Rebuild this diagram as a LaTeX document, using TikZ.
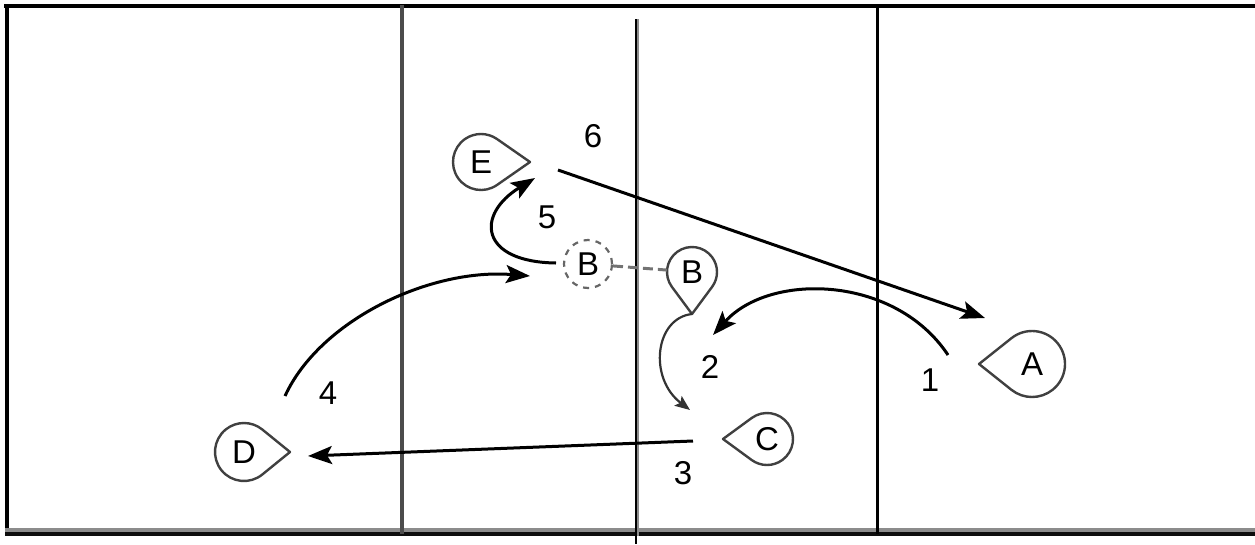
\documentclass[tikz,border=0pt]{standalone}
\usepackage{fontspec}
\setmainfont{Liberation Sans}
\usetikzlibrary{arrows.meta,calc}
\newcommand\player[6]{%
  \node[plabel, minimum size={2*#3 pt}] (#1) at (#2) {#6};
  \pgfmathsetmacro\plal{acos(#3/#5)}%
  \coordinate (#1-tip) at ($(#1.center)+(#4:#5)$);
  \draw[pline] (#1.center) ++({#4+\plal}:#3) arc[start angle={#4+\plal}, delta angle={360-2*\plal}, radius=#3] -- (#1-tip) -- cycle;
}
\begin{document}
\begin{tikzpicture}[x=1pt,y=-1pt,
  plabel/.style={circle, inner sep=0pt, draw=none, font=\fontsize{33}{36}\selectfont},
  pline/.style={draw=black!75, line width=2.4pt, line join=round},
  num/.style={font=\fontsize{33}{36}\selectfont, inner sep=0pt},
  move/.style={line width=3pt, -{Stealth[length=24pt,width=18pt,inset=5pt]}},
  thin move/.style={line width=2.2pt, draw=black!80, -{Stealth[length=15pt,width=12pt,inset=3pt]}},
  court/.style={line width=4pt},
  ]
\useasboundingbox (0,0) rectangle (1255,544);
% court lines
\draw[court] (4,5.5) -- (1255,5.5);
\draw[court] (7,4) -- (7,534);
\draw[line width=4pt, black!45] (5,530) -- (1255,530);
\draw[line width=4pt, black!95] (5,534) -- (1255,534);
\draw[line width=4pt, black!70] (402,5) -- (402,534);
\draw[line width=1.8pt, black] (636,19) -- (636,544);
\draw[line width=1.8pt, black!45] (638,19) -- (638,536);
\draw[line width=3pt] (877,5) -- (877,534);
% players
\player{E}{481,162}{28}{0}{49}{E}
\player{D}{244,452}{29}{0}{46}{D}
\player{C}{767,439}{26}{180}{44}{C}
\player{A}{1032,364}{33}{180}{53}{A}
\player{B}{692,272}{25}{90}{42}{B}
\node[plabel, minimum size=48pt, draw=black!60, dashed, dash pattern=on 6pt off 6pt, line width=2.2pt] (B0) at (588,264) {B};
\draw[line width=3pt, black!55, dash pattern=on 10pt off 5pt] (B0) -- (B);
% movement coordinates
\coordinate (m1s) at (948,355); \coordinate (m1e) at (713,335);
\coordinate (m2e) at (690,410);
\coordinate (m3s) at (693,441); \coordinate (m3e) at (308,456);
\coordinate (m4s) at (285,396); \coordinate (m4e) at (530,276);
\coordinate (m5s) at (556,263); \coordinate (m5e) at (535,178);
\coordinate (m6s) at (558,170); \coordinate (m6e) at (985,318);
% movements
\draw[move] (m1s) .. controls (895,275) and (770,272) .. (m1e);
\draw[thin move] (B-tip) .. controls (655,318) and (648,378) .. (m2e);
\draw[move] (m3s) -- (m3e);
\draw[move] (m4s) .. controls (320,320) and (430,268) .. (m4e);
\draw[move] (m5s) .. controls (480,262) and (475,215) .. (m5e);
\draw[move] (m6s) -- (m6e);
% labels
\node[num] (n1) at (930,380) {1};
\node[num] (n2) at (710,367) {2};
\node[num] (n3) at (683,473) {3};
\node[num] (n4) at (328,393) {4};
\node[num] (n5) at (547,217) {5};
\node[num] (n6) at (593,136) {6};
\end{tikzpicture}
\end{document}
